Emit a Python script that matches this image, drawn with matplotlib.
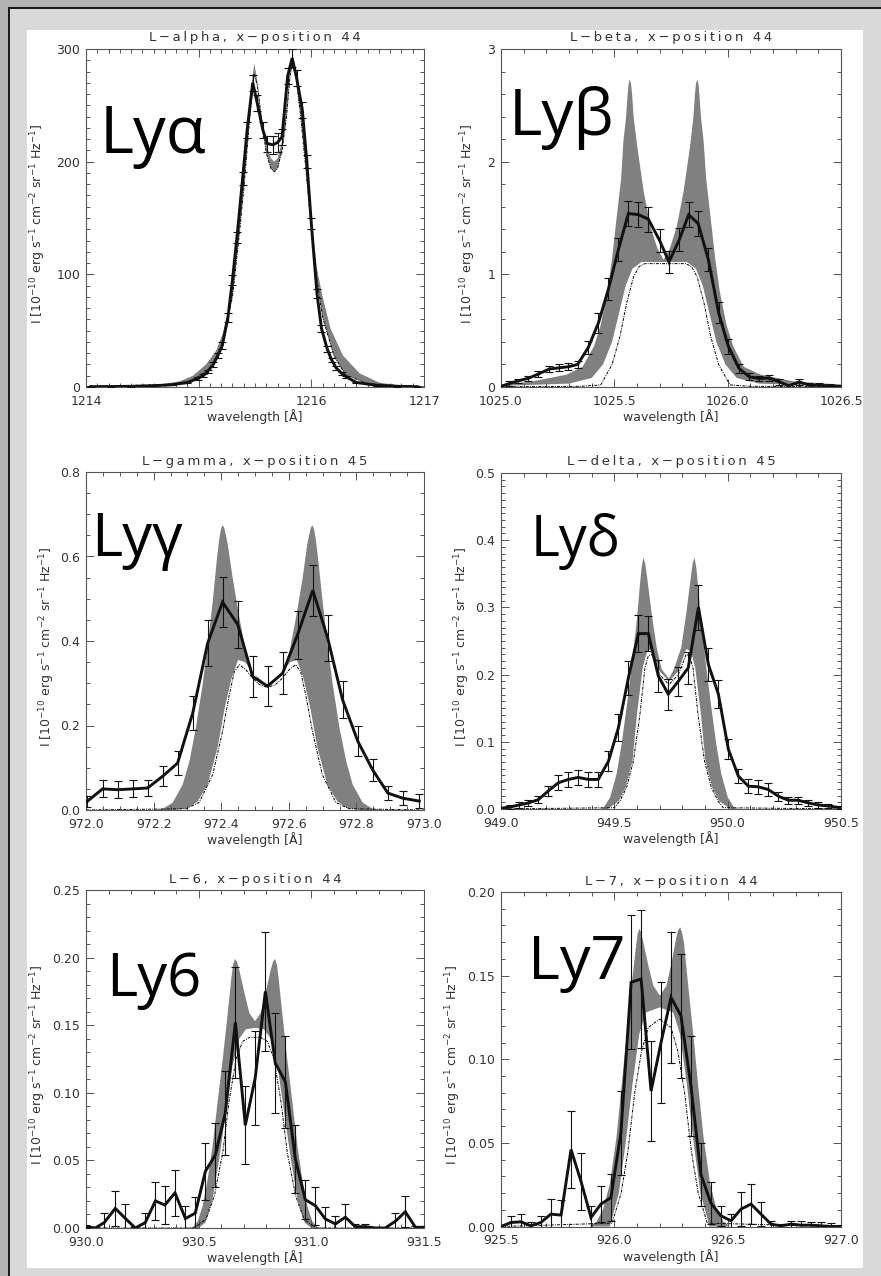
import numpy as np
import matplotlib
matplotlib.use('Agg')
import matplotlib.pyplot as plt
from matplotlib.patches import Rectangle
from matplotlib.ticker import MultipleLocator, FormatStrFormatter

W, H = 881, 1276

# ---------------- Lyman alpha ----------------
LA_OBS_X = [1214.04, 1214.22, 1214.40, 1214.58, 1214.76, 1214.90, 1214.99, 1215.04, 1215.08, 1215.13,
            1215.17, 1215.21, 1215.26, 1215.30, 1215.34, 1215.39, 1215.43, 1215.48, 1215.52, 1215.57,
            1215.61, 1215.66, 1215.70, 1215.74, 1215.79, 1215.83, 1215.87, 1215.92, 1215.96, 1216.00,
            1216.05, 1216.09, 1216.14, 1216.18, 1216.22, 1216.27, 1216.31, 1216.40, 1216.58, 1216.76, 1216.94]
LA_OBS_Y = [0.3, 0.4, 0.6, 1.0, 2.0, 4.0, 7.5, 10, 14, 20,
            28, 37, 62, 95, 133, 185, 228, 270, 252, 228,
            216, 215, 217, 222, 276, 292, 274, 246, 200, 145,
            83, 52, 34, 24, 17, 12, 9, 4, 1.5, 0.6, 0.3]
LA_OBS_ERR = [0.5, 0.5, 0.5, 0.5, 0.6, 0.8, 1, 1.2, 1.5, 2,
              2.5, 3, 4, 4.5, 5, 6, 7, 7, 7, 7,
              7, 8, 8, 7, 7, 8, 7, 7, 6, 5,
              4, 3, 2.5, 2, 1.5, 1.2, 1, 0.8, 0.5, 0.5, 0.5]
LA_HI_X = [1214.0, 1214.59, 1214.83, 1214.95, 1215.065, 1215.154, 1215.213, 1215.272, 1215.31, 1215.35,
           1215.39, 1215.43, 1215.46, 1215.494, 1215.52, 1215.56, 1215.6, 1215.64, 1215.672, 1215.70,
           1215.74, 1215.78, 1215.81, 1215.834, 1215.87, 1215.92, 1215.96, 1216.00, 1216.05, 1216.10,
           1216.17, 1216.28, 1216.43, 1216.6, 1216.8, 1217.0]
LA_HI_Y = [0.5, 1, 5, 10, 20, 32, 47, 72, 100, 140,
           190, 232, 262, 287, 272, 240, 215, 203, 200, 203,
           218, 250, 280, 291, 278, 248, 202, 150, 105, 80,
           52, 28, 12, 4, 1, 0.3]
LA_BASE_X = [1214.0, 1214.9, 1215.1, 1215.2, 1215.3, 1215.35, 1215.4, 1215.45, 1215.49, 1215.52,
             1215.56, 1215.6, 1215.64, 1215.672, 1215.70, 1215.74, 1215.78, 1215.81, 1215.834, 1215.86,
             1215.9, 1215.95, 1216.0, 1216.05, 1216.1, 1216.2, 1216.3, 1216.5, 1217.0]
LA_BASE_Y = [0, 3, 16, 34, 80, 125, 175, 235, 278, 268,
             235, 208, 194, 191, 194, 210, 240, 275, 288, 278,
             245, 195, 140, 95, 62, 28, 11, 3, 0]

# ---------------- Lyman beta ----------------
LB_OBS_X = [1025.000, 1025.035, 1025.076, 1025.120, 1025.165, 1025.213, 1025.257, 1025.297, 1025.338, 1025.385,
            1025.430, 1025.474, 1025.518, 1025.562, 1025.606, 1025.650, 1025.700, 1025.741, 1025.787, 1025.828,
            1025.870, 1025.915, 1025.960, 1026.003, 1026.050, 1026.096, 1026.140, 1026.184, 1026.228, 1026.270,
            1026.316, 1026.360, 1026.405, 1026.450, 1026.495]
LB_OBS_Y = [0.005, 0.03, 0.055, 0.077, 0.115, 0.16, 0.17, 0.18, 0.2, 0.35,
            0.57, 0.87, 1.22, 1.54, 1.53, 1.49, 1.30, 1.11, 1.31, 1.53,
            1.45, 1.13, 0.66, 0.36, 0.165, 0.09, 0.075, 0.08, 0.045, 0.01,
            0.045, 0.015, 0.015, 0.01, 0.006]
LB_OBS_ERR = [0.015, 0.02, 0.02, 0.025, 0.025, 0.03, 0.03, 0.03, 0.03, 0.06,
              0.09, 0.1, 0.1, 0.11, 0.11, 0.11, 0.1, 0.1, 0.1, 0.11,
              0.11, 0.1, 0.09, 0.07, 0.04, 0.03, 0.025, 0.03, 0.025, 0.02,
              0.025, 0.02, 0.02, 0.015, 0.015]
LB_HI_X = [1025.00, 1025.14, 1025.29, 1025.36, 1025.41, 1025.44, 1025.47, 1025.49, 1025.51, 1025.53,
           1025.54, 1025.552, 1025.558, 1025.563, 1025.568, 1025.574, 1025.579, 1025.585, 1025.60, 1025.63,
           1025.66, 1025.69, 1025.717, 1025.745, 1025.775, 1025.805, 1025.835, 1025.849, 1025.855, 1025.86,
           1025.866, 1025.871, 1025.876, 1025.882, 1025.894, 1025.905, 1025.925, 1025.945, 1025.965, 1025.995,
           1026.025, 1026.07, 1026.145, 1026.29, 1026.5]
LB_HI_Y = [0.02, 0.05, 0.11, 0.18, 0.36, 0.55, 0.85, 1.14, 1.50, 1.85,
           2.18, 2.40, 2.58, 2.69, 2.73, 2.69, 2.58, 2.40, 2.15, 1.73,
           1.42, 1.23, 1.13, 1.23, 1.42, 1.73, 2.15, 2.40, 2.58, 2.69,
           2.73, 2.69, 2.58, 2.40, 2.18, 1.85, 1.50, 1.14, 0.85, 0.55,
           0.36, 0.18, 0.11, 0.05, 0.02]
LB_LO_X = [1025.00, 1025.30, 1025.40, 1025.45, 1025.49, 1025.52, 1025.55, 1025.58, 1025.62, 1025.72,
           1025.82, 1025.86, 1025.89, 1025.92, 1025.95, 1025.99, 1026.04, 1026.14, 1026.5]
LB_LO_Y = [0.01, 0.03, 0.08, 0.2, 0.4, 0.65, 0.9, 1.05, 1.11, 1.11,
           1.11, 1.05, 0.9, 0.65, 0.4, 0.2, 0.08, 0.03, 0.01]
LB_BASE_X = [1025.0, 1025.35, 1025.44, 1025.49, 1025.525, 1025.555, 1025.585, 1025.61, 1025.635, 1025.815,
             1025.84, 1025.865, 1025.895, 1025.925, 1025.96, 1026.01, 1026.1, 1026.5]
LB_BASE_Y = [0.002, 0.006, 0.018, 0.2, 0.45, 0.75, 0.98, 1.07, 1.095, 1.095,
             1.07, 0.98, 0.75, 0.45, 0.2, 0.018, 0.006, 0.002]

# ---------------- Lyman gamma ----------------
LG_OBS_X = [972.003, 972.049, 972.094, 972.138, 972.182, 972.227, 972.271, 972.316, 972.360, 972.404,
            972.449, 972.493, 972.537, 972.582, 972.626, 972.671, 972.715, 972.759, 972.804, 972.848,
            972.893, 972.937, 972.986]
LG_OBS_Y = [0.02, 0.050, 0.048, 0.050, 0.052, 0.080, 0.111, 0.230, 0.395, 0.492,
            0.439, 0.316, 0.293, 0.324, 0.415, 0.520, 0.407, 0.261, 0.163, 0.095,
            0.040, 0.028, 0.021]
LG_OBS_ERR = [0.012, 0.02, 0.02, 0.02, 0.02, 0.024, 0.029, 0.041, 0.054, 0.06,
              0.056, 0.049, 0.047, 0.05, 0.057, 0.061, 0.055, 0.044, 0.035, 0.026,
              0.016, 0.016, 0.016]
LG_HI_X = [972.0, 972.2, 972.227, 972.256, 972.286, 972.306, 972.325, 972.345, 972.36, 972.375,
           972.388, 972.394, 972.399, 972.404, 972.409, 972.414, 972.42, 972.434, 972.454, 972.473,
           972.493, 972.513, 972.537, 972.562, 972.582, 972.602, 972.621, 972.641, 972.654, 972.66,
           972.665, 972.67, 972.675, 972.68, 972.686, 972.70, 972.715, 972.73, 972.75, 972.77,
           972.789, 972.819, 972.848, 972.88, 973.0]
LG_HI_Y = [0.0, 0.0, 0.003, 0.017, 0.06, 0.115, 0.194, 0.297, 0.39, 0.494,
           0.60, 0.64, 0.664, 0.674, 0.668, 0.65, 0.625, 0.549, 0.454, 0.375,
           0.328, 0.305, 0.298, 0.305, 0.328, 0.375, 0.454, 0.549, 0.625, 0.65,
           0.668, 0.674, 0.664, 0.64, 0.60, 0.494, 0.39, 0.297, 0.194, 0.115,
           0.06, 0.017, 0.003, 0.0, 0.0]
LG_LO_X = [972.26, 972.30, 972.33, 972.36, 972.39, 972.41, 972.43, 972.45, 972.47, 972.50,
           972.537, 972.574, 972.604, 972.624, 972.644, 972.664, 972.684, 972.714, 972.744, 972.774, 972.814]
LG_LO_Y = [0.0, 0.004, 0.02, 0.06, 0.15, 0.24, 0.31, 0.355, 0.35, 0.32,
           0.295, 0.32, 0.35, 0.355, 0.31, 0.24, 0.15, 0.06, 0.02, 0.004, 0.0]
LG_BASE_X = [972.0, 972.296, 972.335, 972.375, 972.404, 972.424, 972.439, 972.454, 972.473, 972.493,
             972.513, 972.537, 972.561, 972.581, 972.601, 972.62, 972.635, 972.65, 972.67, 972.699,
             972.739, 972.778, 973.0]
LG_BASE_Y = [0.0, 0.003, 0.018, 0.084, 0.186, 0.273, 0.328, 0.344, 0.332, 0.312,
             0.297, 0.29, 0.297, 0.312, 0.332, 0.344, 0.328, 0.273, 0.186, 0.084,
             0.018, 0.003, 0.0]

# ---------------- Lyman delta ----------------
LD_OBS_X = [949.0, 949.04, 949.08, 949.121, 949.165, 949.209, 949.253, 949.297, 949.341, 949.385,
            949.429, 949.474, 949.518, 949.562, 949.606, 949.65, 949.694, 949.738, 949.782, 949.826,
            949.871, 949.915, 949.959, 950.003, 950.047, 950.091, 950.135, 950.179, 950.224, 950.268,
            950.312, 950.356, 950.40, 950.444, 950.496]
LD_OBS_Y = [0.001, 0.003, 0.006, 0.009, 0.014, 0.027, 0.039, 0.044, 0.047, 0.044,
            0.044, 0.071, 0.121, 0.195, 0.261, 0.261, 0.198, 0.171, 0.190, 0.210,
            0.300, 0.215, 0.171, 0.089, 0.049, 0.034, 0.033, 0.029, 0.019, 0.013,
            0.013, 0.009, 0.006, 0.0045, 0.002]
LD_OBS_ERR = [0.002, 0.003, 0.004, 0.004, 0.005, 0.007, 0.011, 0.011, 0.011, 0.011,
              0.011, 0.015, 0.02, 0.025, 0.027, 0.026, 0.024, 0.023, 0.022, 0.024,
              0.033, 0.024, 0.021, 0.015, 0.01, 0.01, 0.01, 0.009, 0.007, 0.005,
              0.005, 0.004, 0.004, 0.003, 0.002]
LD_HI_X = [949.0, 949.43, 949.451, 949.481, 949.51, 949.532, 949.554, 949.576, 949.599, 949.613,
           949.62, 949.628, 949.636, 949.643, 949.665, 949.687, 949.709, 949.741, 949.763, 949.795,
           949.817, 949.839, 949.846, 949.854, 949.862, 949.869, 949.883, 949.906, 949.928, 949.95,
           949.972, 950.001, 950.031, 950.06, 950.5]
LD_HI_Y = [0.0, 0.0, 0.001, 0.017, 0.052, 0.096, 0.151, 0.21, 0.28, 0.334,
           0.358, 0.374, 0.366, 0.349, 0.29, 0.24, 0.208, 0.194, 0.208, 0.24,
           0.29, 0.349, 0.366, 0.374, 0.358, 0.334, 0.28, 0.21, 0.151, 0.096,
           0.052, 0.017, 0.001, 0.0, 0.0]
LD_LO_X = [949.47, 949.52, 949.55, 949.58, 949.60, 949.625, 949.645, 949.665, 949.70, 949.741,
           949.782, 949.817, 949.837, 949.857, 949.882, 949.902, 949.932, 949.962, 950.012]
LD_LO_Y = [0.0, 0.012, 0.032, 0.071, 0.141, 0.21, 0.235, 0.238, 0.205, 0.19,
           0.205, 0.238, 0.235, 0.21, 0.141, 0.071, 0.032, 0.012, 0.0]
LD_BASE_X = [949.0, 949.5, 949.525, 949.554, 949.584, 949.613, 949.635, 949.65, 949.665, 949.70,
             949.741, 949.782, 949.817, 949.832, 949.847, 949.869, 949.898, 949.928, 949.957, 949.98, 950.5]
LD_BASE_Y = [0.0, 0.002, 0.012, 0.032, 0.071, 0.141, 0.21, 0.228, 0.23, 0.2,
             0.185, 0.2, 0.23, 0.228, 0.21, 0.141, 0.071, 0.032, 0.012, 0.002, 0.0]

# ---------------- Lyman 6 ----------------
L6_OBS_X = [930.0, 930.041, 930.081, 930.13, 930.175, 930.219, 930.263, 930.308, 930.35, 930.395,
            930.441, 930.485, 930.53, 930.574, 930.618, 930.663, 930.707, 930.751, 930.796, 930.84,
            930.885, 930.929, 930.973, 931.018, 931.062, 931.107, 931.151, 931.195, 931.24, 931.284,
            931.328, 931.373, 931.417, 931.462, 931.5]
L6_OBS_Y = [0.001, 0.0, 0.004, 0.0145, 0.007, 0.0, 0.004, 0.02, 0.017, 0.026,
            0.007, 0.011, 0.042, 0.054, 0.085, 0.152, 0.076, 0.111, 0.175, 0.122,
            0.108, 0.051, 0.021, 0.0165, 0.0067, 0.003, 0.008, 0.001, 0.001, 0.0,
            0.0, 0.005, 0.012, 0.0005, 0.0005]
L6_OBS_ERR = [0.001, 0.001, 0.007, 0.013, 0.011, 0.001, 0.007, 0.014, 0.014, 0.017,
              0.0095, 0.012, 0.021, 0.024, 0.031, 0.041, 0.029, 0.035, 0.044, 0.037,
              0.034, 0.025, 0.0145, 0.014, 0.009, 0.006, 0.0095, 0.002, 0.002, 0.001,
              0.001, 0.006, 0.0115, 0.001, 0.001]
L6_HI_X = [930.0, 930.45, 930.473, 930.496, 930.518, 930.54, 930.562, 930.584, 930.607, 930.629,
           930.646, 930.653, 930.661, 930.67, 930.68, 930.703, 930.725, 930.75, 930.775, 930.797,
           930.82, 930.83, 930.839, 930.847, 930.854, 930.871, 930.893, 930.916, 930.938, 930.96,
           930.982, 931.004, 931.027, 931.05, 931.5]
L6_HI_Y = [0.0, 0.0, 0.0005, 0.005, 0.0165, 0.036, 0.061, 0.093, 0.125, 0.159,
           0.186, 0.195, 0.199, 0.197, 0.191, 0.174, 0.159, 0.153, 0.159, 0.174,
           0.191, 0.197, 0.199, 0.195, 0.186, 0.159, 0.125, 0.093, 0.061, 0.036,
           0.0165, 0.005, 0.0005, 0.0, 0.0]
L6_LO_X = [930.50, 930.53, 930.56, 930.59, 930.62, 930.65, 930.68, 930.71, 930.75, 930.79,
           930.82, 930.85, 930.88, 930.91, 930.94, 930.97, 931.0]
L6_LO_Y = [0.0, 0.004, 0.02, 0.05, 0.085, 0.12, 0.14, 0.147, 0.148, 0.147,
           0.14, 0.12, 0.085, 0.05, 0.02, 0.004, 0.0]
L6_BASE_X = [930.0, 930.48, 930.533, 930.57, 930.607, 930.636, 930.666, 930.695, 930.725, 930.775,
             930.805, 930.834, 930.864, 930.893, 930.93, 930.967, 931.02, 931.5]
L6_BASE_Y = [0.0, 0.0, 0.0066, 0.024, 0.056, 0.095, 0.125, 0.138, 0.141, 0.141,
             0.138, 0.125, 0.095, 0.056, 0.024, 0.0066, 0.0, 0.0]

# ---------------- Lyman 7 ----------------
L7_OBS_X = [925.5, 925.544, 925.588, 925.632, 925.676, 925.72, 925.765, 925.809, 925.853, 925.897,
            925.941, 925.985, 926.029, 926.074, 926.118, 926.162, 926.206, 926.25, 926.294, 926.338,
            926.382, 926.426, 926.47, 926.515, 926.559, 926.603, 926.647, 926.691, 926.735, 926.779,
            926.824, 926.868, 926.912, 926.956, 927.0]
L7_OBS_Y = [0.0, 0.0024, 0.0028, 0.0004, 0.0024, 0.0074, 0.0068, 0.046, 0.027, 0.0054,
            0.0134, 0.0173, 0.056, 0.146, 0.148, 0.081, 0.110, 0.137, 0.126, 0.084,
            0.031, 0.014, 0.0064, 0.0034, 0.0104, 0.0134, 0.0074, 0.0014, 0.0004, 0.0014,
            0.0008, 0.0008, 0.0004, 0.0, 0.0]
L7_OBS_ERR = [0.001, 0.004, 0.0045, 0.002, 0.004, 0.009, 0.009, 0.023, 0.017, 0.007,
              0.011, 0.014, 0.025, 0.04, 0.041, 0.03, 0.036, 0.039, 0.037, 0.03,
              0.019, 0.0127, 0.006, 0.004, 0.01, 0.0122, 0.007, 0.002, 0.001, 0.002,
              0.0025, 0.002, 0.002, 0.002, 0.001]
L7_HI_X = [925.5, 925.893, 925.922, 925.951, 925.981, 926.01, 926.032, 926.054, 926.076, 926.096,
           926.103, 926.11, 926.118, 926.128, 926.15, 926.172, 926.201, 926.23, 926.253, 926.272,
           926.281, 926.29, 926.298, 926.307, 926.326, 926.349, 926.37, 926.393, 926.422, 926.451,
           926.481, 926.51, 927.0]
L7_HI_Y = [0.0, 0.0, 0.003, 0.0104, 0.026, 0.054, 0.084, 0.114, 0.144, 0.168,
           0.175, 0.178, 0.176, 0.17, 0.156, 0.144, 0.138, 0.144, 0.158, 0.172,
           0.177, 0.179, 0.176, 0.17, 0.144, 0.114, 0.084, 0.054, 0.026, 0.0104,
           0.003, 0.0, 0.0]
L7_LO_X = [925.98, 926.02, 926.05, 926.08, 926.11, 926.14, 926.2, 926.26, 926.29, 926.32,
           926.35, 926.38, 926.42]
L7_LO_Y = [0.0, 0.02, 0.05, 0.085, 0.115, 0.128, 0.131, 0.128, 0.115, 0.085,
           0.05, 0.02, 0.0]
L7_BASE_X = [925.5, 925.99, 926.03, 926.06, 926.09, 926.12, 926.15, 926.2, 926.25, 926.28,
             926.31, 926.34, 926.37, 926.41, 927.0]
L7_BASE_Y = [0.0, 0.002, 0.02, 0.045, 0.08, 0.105, 0.119, 0.124, 0.119, 0.105,
             0.08, 0.045, 0.02, 0.002, 0.0]

TITLES = ["L-alpha, x-position 44", "L-beta, x-position 44", "L-gamma, x-position 45",
          "L-delta, x-position 45", "L-6, x-position 44", "L-7, x-position 44"]
TAGS = ["Lyα", "Lyβ", "Lyγ", "Lyδ", "Ly6", "Ly7"]
YLABEL = r'I [10$^{-10}$ erg s$^{-1}$ cm$^{-2}$ sr$^{-1}$ Hz$^{-1}$]'
XLABEL = 'wavelength [Å]'

TEXT_C = '#333333'
FRAME_C = '#555555'
BAND_C = '#808080'


def px_rect(x0, y0, x1, y1, color, z=-10):
    """rectangle given in pixel coords (origin top-left)"""
    return Rectangle((x0 / W, 1 - y1 / H), (x1 - x0) / W, (y1 - y0) / H,
                     transform=fig.transFigure, facecolor=color, edgecolor='none', zorder=z)


def spaced(s):
    # fake the wide letter tracking of the original titles
    return '\u2009'.join(s.replace('-', '\u2212'))


def draw_panel(p):
    l, t, r, b = p['box']
    ax = fig.add_axes([l / W, 1 - b / H, (r - l) / W, (b - t) / H])

    hx, hy = p['hi']
    lx, ly = p['lo']
    ax.fill(np.r_[hx, lx[::-1]], np.r_[hy, ly[::-1]], color=BAND_C, lw=0, zorder=1)
    ax.plot(*p['base'], color='k', lw=0.7, ls=(0, (3, 1.2, 1, 1.2)), zorder=2)

    ox, oy, oe = p['obs']
    ax.errorbar(ox, oy, yerr=oe, fmt='none', ecolor='#111111', elinewidth=0.8,
                capsize=2.8, capthick=0.8, zorder=3)
    ax.plot(ox, oy, color='#111111', lw=2.1, zorder=4, solid_joinstyle='miter')

    ax.set_xlim(*p['xlim'])
    ax.set_ylim(*p['ylim'])
    xmaj, xmin, xfmt = p['xt']
    ymaj, ymin, yfmt = p['yt']
    ax.xaxis.set_major_locator(MultipleLocator(xmaj))
    ax.xaxis.set_minor_locator(MultipleLocator(xmin))
    ax.yaxis.set_major_locator(MultipleLocator(ymaj))
    ax.yaxis.set_minor_locator(MultipleLocator(ymin))
    ax.xaxis.set_major_formatter(FormatStrFormatter(xfmt))
    ax.yaxis.set_major_formatter(FormatStrFormatter(yfmt))
    ax.tick_params(which='both', direction='in', top=True, right=True,
                   color=FRAME_C, labelcolor=TEXT_C, labelsize=9, width=0.7)
    ax.tick_params(which='major', length=5.5)
    ax.tick_params(which='minor', length=3)
    ax.tick_params(axis='x', pad=5.5)
    ax.tick_params(axis='y', pad=4)
    for sp in ax.spines.values():
        sp.set_color(FRAME_C)
        sp.set_linewidth(0.8)

    # texts around the frame
    cx = (l + r) / 2
    fig.text(cx / W, 1 - (t - 7.5) / H, spaced(p['title']), ha='center', va='baseline',
             fontsize=9.5, color=TEXT_C)
    fig.text(cx / W, 1 - (b + 34) / H, XLABEL, ha='center', va='baseline',
             fontsize=9, color=TEXT_C)
    fig.text(p['ylab_x'] / W, 1 - ((t + b) / 2 + 6) / H, YLABEL, rotation=90,
             ha='center', va='center', fontsize=9, color=TEXT_C)

    tx, ty = p['tag_pos']
    fig.text(tx / W, 1 - ty / H, p['tag'], ha='left', va='baseline',
             fontsize=p['tag_size'], family='Open Sans', color='black')
    return ax


PANELS = [
    dict(obs=(LA_OBS_X, LA_OBS_Y, LA_OBS_ERR), hi=(LA_HI_X, LA_HI_Y), lo=(LA_BASE_X, LA_BASE_Y),
         base=(LA_BASE_X, LA_BASE_Y), box=(86, 49, 424, 387), xlim=(1214, 1217), ylim=(0, 300),
         xt=(1, 0.1, '%d'), yt=(100, 10, '%d'), title=TITLES[0], tag=TAGS[0],
         tag_pos=(100, 153), tag_size=47, ylab_x=38),
    dict(obs=(LB_OBS_X, LB_OBS_Y, LB_OBS_ERR), hi=(LB_HI_X, LB_HI_Y), lo=(LB_LO_X, LB_LO_Y),
         base=(LB_BASE_X, LB_BASE_Y), box=(501, 49, 841, 387), xlim=(1025, 1026.5), ylim=(0, 3),
         xt=(0.5, 0.1, '%.1f'), yt=(1, 0.2, '%d'), title=TITLES[1], tag=TAGS[1],
         tag_pos=(509, 135), tag_size=46, ylab_x=468),
    dict(obs=(LG_OBS_X, LG_OBS_Y, LG_OBS_ERR), hi=(LG_HI_X, LG_HI_Y), lo=(LG_LO_X, LG_LO_Y),
         base=(LG_BASE_X, LG_BASE_Y), box=(86, 472, 424, 810), xlim=(972, 973), ylim=(0, 0.8),
         xt=(0.2, 0.05, '%.1f'), yt=(0.2, 0.05, '%.1f'), title=TITLES[2], tag=TAGS[2],
         tag_pos=(91, 556), tag_size=43, ylab_x=47),
    dict(obs=(LD_OBS_X, LD_OBS_Y, LD_OBS_ERR), hi=(LD_HI_X, LD_HI_Y), lo=(LD_LO_X, LD_LO_Y),
         base=(LD_BASE_X, LD_BASE_Y), box=(501, 473, 841, 809), xlim=(949, 950.5), ylim=(0, 0.5),
         xt=(0.5, 0.1, '%.1f'), yt=(0.1, 0.01, '%.1f'), title=TITLES[3], tag=TAGS[3],
         tag_pos=(531, 556), tag_size=40, ylab_x=462),
    dict(obs=(L6_OBS_X, L6_OBS_Y, L6_OBS_ERR), hi=(L6_HI_X, L6_HI_Y), lo=(L6_LO_X, L6_LO_Y),
         base=(L6_BASE_X, L6_BASE_Y), box=(86, 890, 424, 1228), xlim=(930, 931.5), ylim=(0, 0.25),
         xt=(0.5, 0.1, '%.1f'), yt=(0.05, 0.01, '%.2f'), title=TITLES[4], tag=TAGS[4],
         tag_pos=(106, 996), tag_size=43, ylab_x=38),
    dict(obs=(L7_OBS_X, L7_OBS_Y, L7_OBS_ERR), hi=(L7_HI_X, L7_HI_Y), lo=(L7_LO_X, L7_LO_Y),
         base=(L7_BASE_X, L7_BASE_Y), box=(501, 892, 841, 1226.5), xlim=(925.5, 927), ylim=(0, 0.2),
         xt=(0.5, 0.1, '%.1f'), yt=(0.05, 0.01, '%.2f'), title=TITLES[5], tag=TAGS[5],
         tag_pos=(528, 979), tag_size=44, ylab_x=453),
]

# ---------------- Figure & frame ----------------
fig = plt.figure(figsize=(W / 100, H / 100), dpi=100, facecolor='#d9d9d9')
fig.add_artist(px_rect(0, 0, W, 7, '#b3b3b3'))
fig.add_artist(px_rect(0, 0, 8, H, '#b3b3b3'))
fig.add_artist(px_rect(8, 6.5, W, 8.5, '#1a1a1a', z=-9))
fig.add_artist(px_rect(8, 6.5, 10, H, '#1a1a1a', z=-9))
fig.add_artist(px_rect(27, 30, 863, 1268, 'white', z=-8))

for p in PANELS:
    p['hi'] = tuple(np.asarray(a, float) for a in p['hi'])
    p['lo'] = tuple(np.asarray(a, float) for a in p['lo'])
    draw_panel(p)

fig.savefig('out.png', dpi=100, facecolor=fig.get_facecolor())
